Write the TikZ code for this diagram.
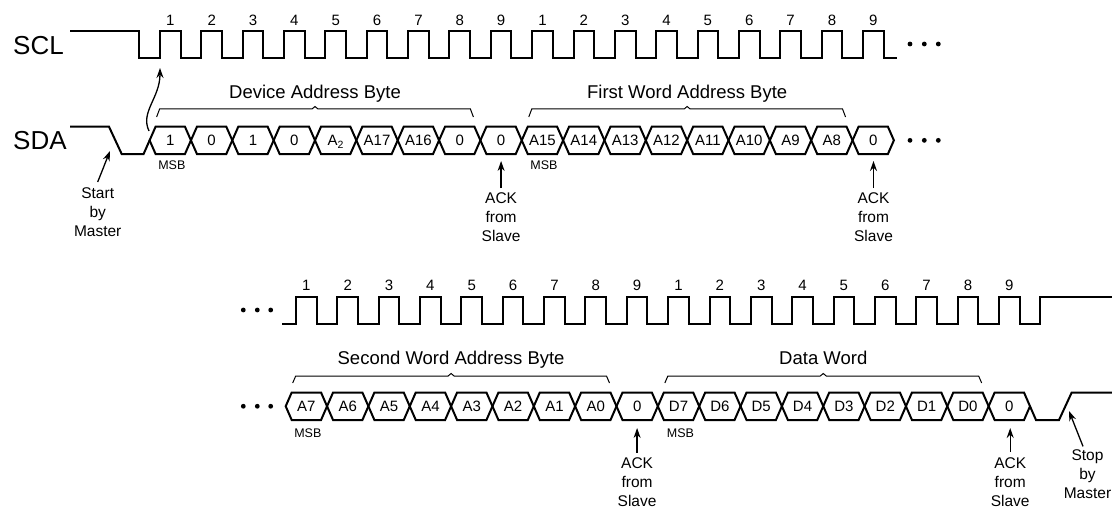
\documentclass[tikz,border=0pt]{standalone}
\usepackage{fontspec}
\setmainfont{Liberation Sans}
\usetikzlibrary{arrows.meta}
\begin{document}
\begin{tikzpicture}[x=1pt,y=-1pt,
  sig/.style={line width=2pt, line join=miter},
  bracepath/.style={line width=1pt},
  lbl/.style={font=\fontsize{18.5}{22}\selectfont, inner sep=0, text height=13.3pt, text depth=0pt},
  bit/.style={font=\fontsize{15}{18}\selectfont, inner sep=0, text height=10.7pt, text depth=0pt},
  num/.style={font=\fontsize{15}{18}\selectfont, inner sep=0, text height=10.7pt, text depth=0pt},
  msb/.style={font=\fontsize{12.5}{15}\selectfont, inner sep=0, text height=9pt, text depth=0pt},
  note/.style={font=\fontsize{15.5}{19}\selectfont, align=center, inner sep=0, anchor=north},
  sname/.style={font=\fontsize{26}{30}\selectfont, inner sep=0, anchor=west, text height=18.6pt, text depth=0pt},
  arr/.style={line width=1.3pt, -{Stealth[length=10pt,width=7pt]}},
  dotmark/.style={fill=black}
]
\useasboundingbox (0,0) rectangle (1112,511);

% ---------------- top row ----------------
\node[sname] (scl) at (13,45) {SCL};
\node[sname] (sda) at (13,140.5) {SDA};

% SCL top
\draw[sig] (70,31.5) -| (139.3,58.5)
  \foreach \k in {0,...,17}{ -- ({160+\k*41.35},58.5) -- ({160+\k*41.35},31.5) -- ({180.675+\k*41.35},31.5) -- ({180.675+\k*41.35},58.5) }
  -- (897,58.5);
\foreach \k in {0,...,17}{
  \pgfmathtruncatemacro\nn{mod(\k,9)+1}
  \node[num] (nt\k) at ({170.34+\k*41.35},20) {\nn};
}

% SDA top
\draw[sig] (70,126.7) -- (109,126.7) -- (121.7,154) -- (143.6,154) -- (149.6,140.35);
\foreach \v [count=\i from 0] in {1,0,1,0,A\textsubscript{2},A17,A16,0,0,A15,A14,A13,A12,A11,A10,A9,A8,0}{
  \pgfmathsetmacro\xa{149.6+\i*41.35}
  \pgfmathsetmacro\xb{\xa+41.35}
  \draw[sig] (\xa,140.35) -- (\xa+6,126.7) -- (\xb-6,126.7) -- (\xb,140.35) -- (\xb-6,154) -- (\xa+6,154) -- cycle;
  \node[bit] (bt\i) at ({(\xa+\xb)/2},140.35) {\v};
}
\node[msb] (msb1) at (171.8,165) {MSB};
\node[msb] (msb2) at (543.9,165) {MSB};

% dots top
\foreach \x [count=\j] in {910,924.3,938.3}{
  \fill[dotmark] (\x,44) circle (2.4);
  \fill[dotmark] (\x,140.35) circle (2.4);
}

% braces top
\draw[bracepath] (156.6,117) -- (159.6,109) -- (312,109) -- (315,106.5) -- (318,109) -- (470.4,109) -- (473.4,117);
\node[lbl] (dab) at (315,91.7) {Device Address Byte};
\draw[bracepath] (528.75,117) -- (531.75,109) -- (684.15,109) -- (687.15,106.5) -- (690.15,109) -- (842.55,109) -- (845.55,117);
\node[lbl] (fwab) at (687.15,91.7) {First Word Address Byte};

% notes top
\node[note] (start) at (97.7,187) {Start\\by\\Master};
\coordinate (starttip) at (110,151);
\draw[arr] ([yshift=5pt]start.north) -- (starttip);

\coordinate (clkhint) at (160,68);
\coordinate (clkfrom) at (149,131);
\draw[arr] (clkfrom) .. controls (140,112) and (160,98) .. (clkhint);

\node[note] (ack1) at (501.1,192.7) {ACK\\from\\Slave};
\coordinate (ack1tip) at (501.1,161);
\draw[arr] ([yshift=4.5pt]ack1.north) -- (ack1tip);
\node[note] (ack2) at (873.5,192.7) {ACK\\from\\Slave};
\coordinate (ack2tip) at (873.5,161);
\draw[arr] ([yshift=4.5pt]ack2.north) -- (ack2tip);

% ---------------- bottom row ----------------
\draw[sig] (282,324)
  \foreach \k in {0,...,17}{ -- ({296+\k*41.35},324) -- ({296+\k*41.35},297) -- ({316.675+\k*41.35},297) -- ({316.675+\k*41.35},324) }
  -- (1040.3,324) -- (1040.3,297) -- (1112,297);
\foreach \k in {0,...,17}{
  \pgfmathtruncatemacro\nn{mod(\k,9)+1}
  \node[num] (nb\k) at ({306.34+\k*41.35},285) {\nn};
}

\foreach \v [count=\i from 0] in {A7,A6,A5,A4,A3,A2,A1,A0,0,D7,D6,D5,D4,D3,D2,D1,D0,0}{
  \pgfmathsetmacro\xa{285.7+\i*41.35}
  \pgfmathsetmacro\xb{\xa+41.35}
  \draw[sig] (\xa,406.25) -- (\xa+6,392.5) -- (\xb-6,392.5) -- (\xb,406.25) -- (\xb-6,420) -- (\xa+6,420) -- cycle;
  \node[bit] (bb\i) at ({(\xa+\xb)/2},406.25) {\v};
}
\draw[sig] (1030,406.25) -- (1036,420) -- (1059,420) -- (1071.7,392.5) -- (1112,392.5);
\node[msb] (msb3) at (307.8,433) {MSB};
\node[msb] (msb4) at (680.5,433) {MSB};

\foreach \x in {243.3,257.3,270.7}{
  \fill[dotmark] (\x,310) circle (2.4);
  \fill[dotmark] (\x,406.25) circle (2.4);
}

\draw[bracepath] (292.7,383) -- (295.7,376) -- (448.1,376) -- (451.1,373.5) -- (454.1,376) -- (606.5,376) -- (609.5,383);
\node[lbl] (swab) at (451.1,358) {Second Word Address Byte};
\draw[bracepath] (664.85,383) -- (667.85,376) -- (820.25,376) -- (823.25,373.5) -- (826.25,376) -- (978.65,376) -- (981.65,383);
\node[lbl] (dw) at (823.25,358) {Data Word};

\node[note] (ack3) at (637.1,457.5) {ACK\\from\\Slave};
\coordinate (ack3tip) at (637.1,428);
\draw[arr] ([yshift=5pt]ack3.north) -- (ack3tip);
\node[note] (ack4) at (1010.2,457) {ACK\\from\\Slave};
\coordinate (ack4tip) at (1010.2,428);
\draw[arr] ([yshift=5pt]ack4.north) -- (ack4tip);

\node[note] (stop) at (1087.5,449.4) {Stop\\by\\Master};
\coordinate (stoptip) at (1069,411);
\draw[arr] ([xshift=-4.5pt,yshift=3pt]stop.north) -- (stoptip);
\end{tikzpicture}
\end{document}
